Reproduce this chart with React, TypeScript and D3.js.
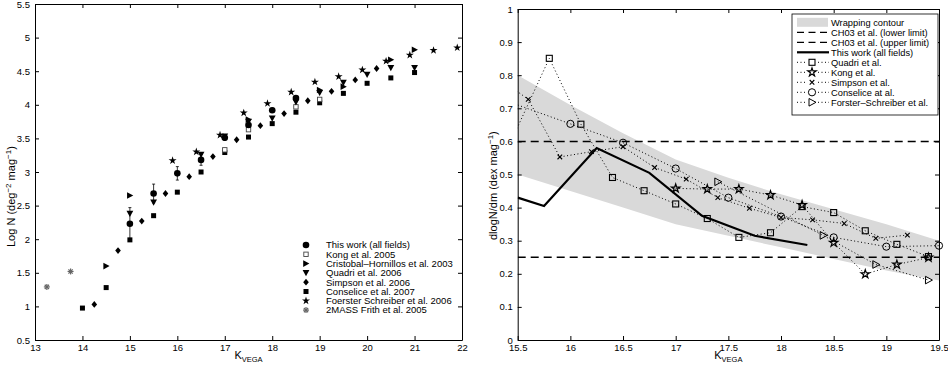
import React, { useEffect, useRef } from 'react';
import * as d3 from 'd3';

// ---- left panel: number counts (Log N vs K) ----
const thisWorkK = [15, 15.5, 16, 16.5, 17, 17.5, 18, 18.5];
const thisWorkN = [2.23, 2.68, 2.98, 3.18, 3.51, 3.70, 3.92, 4.10];
const thisWorkErr = [0.24, 0.14, 0.1, 0.08, 0.04, 0.04, 0.03, 0.03];

const kongK = [17, 17.5, 18.5, 19];
const kongN = [3.33, 3.63, 3.97, 4.08];

const cristobalK = [14.5, 15, 17.5, 19, 19.5, 20.5, 21];
const cristobalN = [1.60, 2.65, 3.78, 4.22, 4.27, 4.67, 4.82];

const quadriK = [15, 15.5, 16.5, 17, 17.5, 18, 18.5, 19, 19.5, 20, 20.5, 21];
const quadriN = [2.38, 2.55, 3.26, 3.53, 3.75, 3.80, 4.04, 4.18, 4.33, 4.45, 4.55, 4.55];

const simpsonK = [14.25, 14.75, 15.25, 15.75, 16.25, 16.75, 17.25, 17.75, 18.25, 18.75, 19.25, 19.75, 20.2];
const simpsonN = [1.03, 1.83, 2.27, 2.68, 2.93, 3.23, 3.48, 3.69, 3.87, 4.06, 4.20, 4.37, 4.54];

const conseliceK = [14, 14.5, 15, 15.5, 16, 16.5, 17, 17.5, 18, 18.5, 19, 19.5, 20, 20.5, 21];
const conseliceN = [0.975, 1.28, 1.99, 2.35, 2.70, 3.0, 3.29, 3.52, 3.72, 3.89, 4.03, 4.17, 4.32, 4.40, 4.48];

const foersterK = [15.9, 16.4, 16.9, 17.4, 17.9, 18.4, 18.9, 19.4, 19.9, 20.4, 20.9, 21.4, 21.9];
const foersterN = [3.17, 3.30, 3.55, 3.88, 4.02, 4.19, 4.34, 4.42, 4.52, 4.65, 4.74, 4.81, 4.85];

const twomassK = [13.25, 13.75];
const twomassN = [1.29, 1.52];

const leftLegend = [
  'This work (all fields)',
  'Kong et al. 2005',
  'Cristobal\u2013Hornillos et al. 2003',
  'Quadri et al. 2006',
  'Simpson et al. 2006',
  'Conselice et al. 2007',
  'Foerster Schreiber et al. 2006',
  '2MASS Frith et al. 2005',
];

// ---- right panel: slopes (dlogN/dm vs K) ----
const contourK = [15.5, 16, 16.5, 17, 17.5, 18, 18.5, 19, 19.5];
const contourUpper = [0.80, 0.71, 0.625, 0.545, 0.49, 0.44, 0.395, 0.35, 0.30];
const contourLower = [0.50, 0.45, 0.40, 0.35, 0.315, 0.28, 0.245, 0.21, 0.18];

const ch03Lower = 0.25;
const ch03Upper = 0.6;

const slopeThisK = [15.5, 15.75, 16.25, 16.75, 17.25, 17.75, 18.25];
const slopeThisV = [0.43, 0.405, 0.58, 0.505, 0.375, 0.315, 0.287];

const slopeQuadriK = [15.2, 15.8, 16.1, 16.4, 16.7, 17.0, 17.3, 17.6, 17.9, 18.2, 18.5, 18.8, 19.1, 19.4];
const slopeQuadriV = [0.437, 0.851, 0.652, 0.491, 0.451, 0.411, 0.367, 0.310, 0.324, 0.403, 0.385, 0.330, 0.289, 0.252];

const slopeKongK = [17.0, 17.3, 17.6, 17.9, 18.2, 18.5, 18.8, 19.1, 19.4];
const slopeKongV = [0.458, 0.456, 0.456, 0.438, 0.408, 0.294, 0.199, 0.228, 0.249];

const slopeSimpsonK = [15.3, 15.6, 15.9, 16.2, 16.5, 16.8, 17.1, 17.4, 17.7, 18.0, 18.3, 18.6, 18.9, 19.2];
const slopeSimpsonV = [0.796, 0.727, 0.553, 0.569, 0.584, 0.521, 0.486, 0.43, 0.398, 0.37, 0.363, 0.352, 0.307, 0.317];

const slopeConseliceK = [15.0, 16.0, 16.5, 17.0, 17.5, 18.0, 18.5, 19.0, 19.5];
const slopeConseliceV = [0.767, 0.653, 0.596, 0.518, 0.430, 0.373, 0.310, 0.282, 0.285];

const slopeForsterK = [17.4, 18.4, 18.9, 19.4];
const slopeForsterV = [0.478, 0.316, 0.228, 0.181];

const rightLegend = [
  'Wrapping contour',
  'CH03 et al. (lower limit)',
  'CH03 et al. (upper limit)',
  'This work (all fields)',
  'Quadri et al.',
  'Kong et al.',
  'Simpson et al.',
  'Conselice at al.',
  'Forster\u2013Schreiber et al.',
];

const FONT = '"Liberation Sans", Arial, Helvetica, sans-serif';
const GREY = '#d9d9d9';

const zip = (a: number[], b: number[]) => a.map((v, i) => [v, b[i]] as [number, number]);

// draw one marker of a given kind centred on (x, y)
function marker(g: any, kind: string, x: number, y: number) {
  switch (kind) {
    case 'dot':
      g.append('circle').attr('cx', x).attr('cy', y).attr('r', 3.3).attr('fill', '#000');
      break;
    case 'osq':
      g.append('rect').attr('x', x - 2.2).attr('y', y - 2.2).attr('width', 4.4).attr('height', 4.4)
        .attr('fill', '#fff').attr('stroke', '#444').attr('stroke-width', 0.9);
      break;
    case 'trir':
      g.append('path').attr('d', `M${x - 2.8},${y - 3.3}L${x + 3.4},${y}L${x - 2.8},${y + 3.3}Z`).attr('fill', '#000');
      break;
    case 'trid':
      g.append('path').attr('d', `M${x - 3.4},${y - 2.8}L${x + 3.4},${y - 2.8}L${x},${y + 3.4}Z`).attr('fill', '#000');
      break;
    case 'dia':
      g.append('path').attr('d', `M${x},${y - 3.4}L${x + 2.8},${y}L${x},${y + 3.4}L${x - 2.8},${y}Z`).attr('fill', '#000');
      break;
    case 'sq':
      g.append('rect').attr('x', x - 2.5).attr('y', y - 2.5).attr('width', 5).attr('height', 5).attr('fill', '#000');
      break;
    case 'star':
      g.append('path').attr('d', d3.symbol(d3.symbolStar, 20)()).attr('transform', `translate(${x},${y})`).attr('fill', '#000');
      break;
    case 'ast':
      for (const a of [0, 45, 90, 135]) {
        const r = (a * Math.PI) / 180;
        g.append('line')
          .attr('x1', x - 3 * Math.cos(r)).attr('y1', y - 3 * Math.sin(r))
          .attr('x2', x + 3 * Math.cos(r)).attr('y2', y + 3 * Math.sin(r))
          .attr('stroke', '#666').attr('stroke-width', 1.2);
      }
      break;
    case 'osq2':
      g.append('rect').attr('x', x - 3).attr('y', y - 3).attr('width', 6).attr('height', 6)
        .attr('fill', 'none').attr('stroke', '#000').attr('stroke-width', 1.1);
      break;
    case 'ostar':
      g.append('path').attr('d', d3.symbol(d3.symbolStar, 22)()).attr('transform', `translate(${x},${y})`)
        .attr('fill', 'none').attr('stroke', '#000').attr('stroke-width', 1.2);
      break;
    case 'x':
      g.append('path').attr('d', `M${x - 2.3},${y - 2.3}L${x + 2.3},${y + 2.3}M${x - 2.3},${y + 2.3}L${x + 2.3},${y - 2.3}`)
        .attr('stroke', '#000').attr('stroke-width', 1.1);
      break;
    case 'ocirc':
      g.append('circle').attr('cx', x).attr('cy', y).attr('r', 3.6).attr('fill', 'none').attr('stroke', '#000').attr('stroke-width', 1);
      break;
    case 'otri':
      g.append('path').attr('d', `M${x - 3},${y - 3.8}L${x + 4},${y}L${x - 3},${y + 3.8}Z`)
        .attr('fill', 'none').attr('stroke', '#000').attr('stroke-width', 1);
      break;
  }
}

// box with inward ticks on all four sides, labels on bottom and left
function frame(svg: any, x: any, y: any, xTicks: number[], yTicks: number[]) {
  const [x0, x1] = x.range();
  const [y0, y1] = y.range();
  const fmt = d3.format('~g');
  const style = (g: any) => {
    g.attr('font-family', FONT).attr('font-size', 9.5);
    g.select('.domain').attr('stroke', '#000').attr('stroke-width', 1);
    g.selectAll('.tick line').attr('stroke', '#000');
    g.selectAll('.tick text').attr('fill', '#000');
  };
  svg.append('g').attr('transform', `translate(0,${y0})`)
    .call(d3.axisBottom(x).tickValues(xTicks).tickSizeInner(-4).tickSizeOuter(0).tickPadding(4).tickFormat(fmt)).call(style);
  svg.append('g').attr('transform', `translate(0,${y1})`)
    .call(d3.axisTop(x).tickValues(xTicks).tickSizeInner(-4).tickSizeOuter(0).tickFormat(() => '')).call(style);
  svg.append('g').attr('transform', `translate(${x0},0)`)
    .call(d3.axisLeft(y).tickValues(yTicks).tickSizeInner(-4).tickSizeOuter(0).tickPadding(5).tickFormat(fmt)).call(style);
  svg.append('g').attr('transform', `translate(${x1},0)`)
    .call(d3.axisRight(y).tickValues(yTicks).tickSizeInner(-4).tickSizeOuter(0).tickFormat(() => '')).call(style);
}

function kLabel(svg: any, cx: number) {
  const t = svg.append('text').attr('x', cx).attr('y', 359).attr('text-anchor', 'middle')
    .attr('font-family', FONT).attr('font-size', 11);
  t.append('tspan').text('K');
  t.append('tspan').attr('dy', 3).attr('font-size', 7.5).text('VEGA');
}

// rotated label, starting at the bottom (yStart) and running upward
function yLabel(svg: any, x: number, yStart: number, main: string, unit: string) {
  const t = svg.append('text').attr('transform', `translate(${x},${yStart}) rotate(-90)`).attr('text-anchor', 'start')
    .attr('font-family', FONT).attr('font-size', 11);
  t.append('tspan').text(main);
  t.append('tspan').text(unit === 'deg' ? ' (deg' : ' (dex mag');
  if (unit === 'deg') {
    t.append('tspan').attr('dy', -4).attr('font-size', 8).text('\u22122');
    t.append('tspan').attr('dy', 4).text(' mag');
  }
  t.append('tspan').attr('dy', -4).attr('font-size', 8).text('\u22121');
  t.append('tspan').attr('dy', 4).text(')');
}

const App = () => {
  const ref = useRef<SVGSVGElement>(null);

  useEffect(() => {
    const svg = d3.select(ref.current);
    svg.selectAll('*').remove();

    // ================= left panel =================
    const xL = d3.scaleLinear().domain([13, 22]).range([35, 462]);
    const yL = d3.scaleLinear().domain([0.5, 5.5]).range([340, 4]);
    const gL = svg.append('g');

    // error bars for this work
    thisWorkK.forEach((k, i) => {
      const x = xL(k);
      const ya = yL(thisWorkN[i] - thisWorkErr[i]);
      const yb = yL(thisWorkN[i] + thisWorkErr[i]);
      gL.append('line').attr('x1', x).attr('x2', x).attr('y1', ya).attr('y2', yb).attr('stroke', '#000').attr('stroke-width', 0.8);
      gL.append('line').attr('x1', x - 1.5).attr('x2', x + 1.5).attr('y1', ya).attr('y2', ya).attr('stroke', '#000').attr('stroke-width', 0.8);
      gL.append('line').attr('x1', x - 1.5).attr('x2', x + 1.5).attr('y1', yb).attr('y2', yb).attr('stroke', '#000').attr('stroke-width', 0.8);
    });

    const leftSeries: [number[], number[], string][] = [
      [conseliceK, conseliceN, 'sq'],
      [simpsonK, simpsonN, 'dia'],
      [twomassK, twomassN, 'ast'],
      [kongK, kongN, 'osq'],
      [quadriK, quadriN, 'trid'],
      [cristobalK, cristobalN, 'trir'],
      [foersterK, foersterN, 'star'],
      [thisWorkK, thisWorkN, 'dot'],
    ];
    leftSeries.forEach(([ks, ns, kind]) => {
      zip(ks, ns).forEach(([k, n]) => marker(gL, kind, xL(k), yL(n)));
    });

    frame(svg, xL, yL, d3.range(13, 23), d3.range(0.5, 5.51, 0.5));
    kLabel(svg, xL(17.5));
    yLabel(svg, 15, 247, 'Log N', 'deg');

    // left legend
    const leftKinds = ['dot', 'osq', 'trir', 'trid', 'dia', 'sq', 'star', 'ast'];
    leftLegend.forEach((label, i) => {
      const y = 245 + i * 9.3;
      marker(svg, leftKinds[i], 306, y);
      svg.append('text').attr('x', 326).attr('y', y + 3.3).attr('font-family', FONT).attr('font-size', 9.5).text(label);
    });

    // ================= right panel =================
    const xR = d3.scaleLinear().domain([15.5, 19.5]).range([517.7, 939]);
    const yR = d3.scaleLinear().domain([0, 1]).range([340, 9]);

    svg.append('clipPath').attr('id', 'clipR').append('rect')
      .attr('x', 517.7).attr('y', 9).attr('width', 939 - 517.7).attr('height', 331);
    const gR = svg.append('g').attr('clip-path', 'url(#clipR)');

    const area = d3.area<number>()
      .x((_, i) => xR(contourK[i]))
      .y0((_, i) => yR(contourLower[i]))
      .y1((_, i) => yR(contourUpper[i]));
    gR.append('path').attr('d', area(contourK)).attr('fill', GREY);

    [ch03Upper, ch03Lower].forEach(v => {
      gR.append('line').attr('x1', xR(15.5)).attr('x2', xR(19.5)).attr('y1', yR(v)).attr('y2', yR(v))
        .attr('stroke', '#000').attr('stroke-width', 1.5).attr('stroke-dasharray', '8,5');
    });

    const line = d3.line<[number, number]>().x(d => xR(d[0])).y(d => yR(d[1]));

    const dotted: [number[], number[], string][] = [
      [slopeQuadriK, slopeQuadriV, 'osq2'],
      [slopeKongK, slopeKongV, 'ostar'],
      [slopeSimpsonK, slopeSimpsonV, 'x'],
      [slopeConseliceK, slopeConseliceV, 'ocirc'],
      [slopeForsterK, slopeForsterV, 'otri'],
    ];
    dotted.forEach(([ks, vs]) => {
      gR.append('path').attr('d', line(zip(ks, vs))).attr('fill', 'none')
        .attr('stroke', '#000').attr('stroke-width', 1).attr('stroke-dasharray', '1,2.5');
    });

    gR.append('path').attr('d', line(zip(slopeThisK, slopeThisV))).attr('fill', 'none')
      .attr('stroke', '#000').attr('stroke-width', 2.2);

    const gM = svg.append('g');
    dotted.forEach(([ks, vs, kind]) => {
      zip(ks, vs).forEach(([k, v]) => {
        if (k >= 15.5 && k <= 19.5) marker(gM, kind, xR(k), yR(v));
      });
    });

    frame(svg, xR, yR, d3.range(15.5, 19.51, 0.5), d3.range(0, 1.01, 0.1).map(v => +v.toFixed(1)));
    kLabel(svg, xR(17.5));
    yLabel(svg, 497, 240, 'dlogN/dm', 'dex');

    // right legend
    const lg = svg.append('g');
    lg.append('rect').attr('x', 792).attr('y', 14).attr('width', 146).attr('height', 101)
      .attr('fill', '#fff').attr('stroke', '#000').attr('stroke-width', 0.8);
    const rightKinds = ['', '', '', '', 'osq2', 'ostar', 'x', 'ocirc', 'otri'];
    rightLegend.forEach((label, i) => {
      const y = 22.3 + i * 10;
      if (i === 0) {
        lg.append('rect').attr('x', 797).attr('y', y - 4.5).attr('width', 31).attr('height', 9).attr('fill', GREY);
      } else if (i === 1 || i === 2) {
        lg.append('line').attr('x1', 797).attr('x2', 829).attr('y1', y).attr('y2', y)
          .attr('stroke', '#000').attr('stroke-width', 1.2).attr('stroke-dasharray', '7,4.5');
      } else if (i === 3) {
        lg.append('line').attr('x1', 797).attr('x2', 829).attr('y1', y).attr('y2', y)
          .attr('stroke', '#000').attr('stroke-width', 2.2);
      } else {
        lg.append('line').attr('x1', 797).attr('x2', 829).attr('y1', y).attr('y2', y)
          .attr('stroke', '#000').attr('stroke-width', 1).attr('stroke-dasharray', '1,2.5');
        lg.append('rect').attr('x', 807).attr('y', y - 5).attr('width', 10).attr('height', 10).attr('fill', '#fff');
        marker(lg, rightKinds[i], 812, y);
      }
      lg.append('text').attr('x', 831).attr('y', y + 3.3).attr('font-family', FONT).attr('font-size', 9.3).text(label);
    });
  }, []);

  return (
    <svg ref={ref} width={948} height={368} style={{ position: 'absolute', left: 0, top: 0, background: '#fff' }} />
  );
};

export default App;
